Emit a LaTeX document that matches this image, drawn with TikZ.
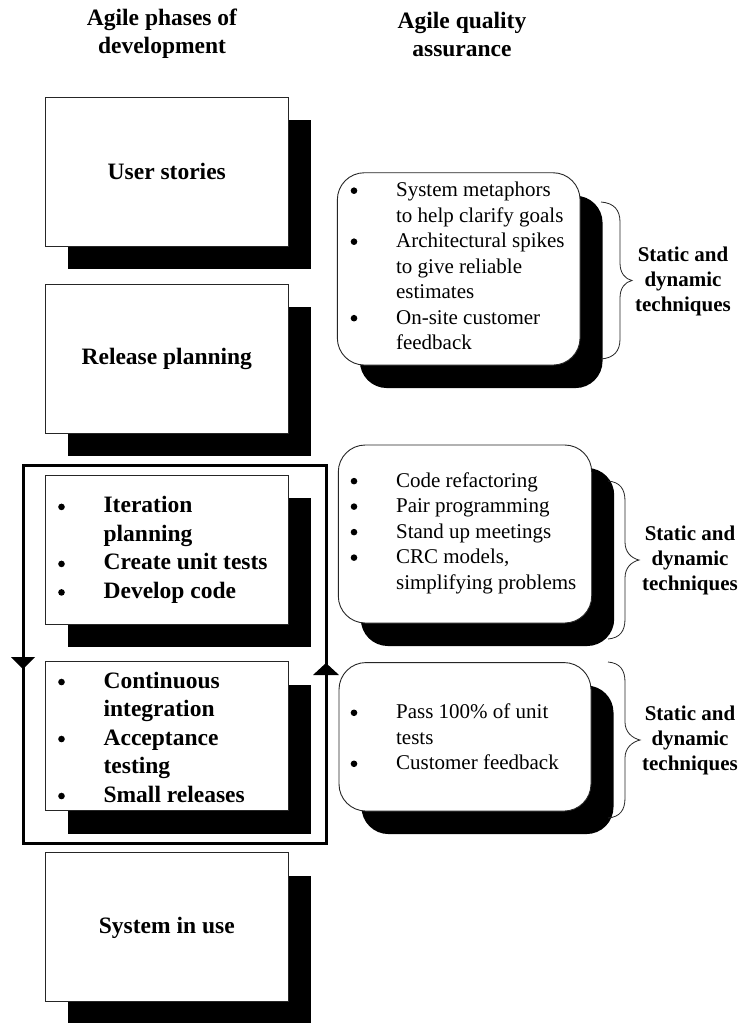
\documentclass[tikz,border=0pt]{standalone}
\usepackage{fontspec}
\setmainfont{Liberation Serif}
\usetikzlibrary{shadows}
% type sizes
\newcommand\phasefont{\fontsize{23.5}{28.5}\selectfont\bfseries}
\newcommand\headfont{\fontsize{23.5}{28}\selectfont\bfseries}
\newcommand\qafont{\fontsize{21}{25.5}\selectfont}
\newcommand\tagfont{\fontsize{21}{25}\selectfont\bfseries}
% round bullet with hanging indent
\newcommand\dotmark{\tikz[x=1cm,y=1cm,baseline=-6pt]\fill (0,0) circle[radius=3.3pt];}
\newcommand\itemb{\makebox[45.4pt][l]{\dotmark}}
\newcommand\contline{\hspace*{45.4pt}}
\begin{document}
\begin{tikzpicture}[x=1pt,y=-1pt,
  blockshadow/.style={drop shadow={shadow xshift=22.5pt, shadow yshift=-23pt, opacity=1, fill=black}},
  phase/.style={draw=black!85, line width=0.9pt, fill=white, minimum width=243pt,
    minimum height=149pt, inner sep=0pt, font=\phasefont, blockshadow},
  qabox/.style={draw=black!85, line width=0.9pt, fill=white, rounded corners=27pt,
    inner sep=0pt, blockshadow},
  listtext/.style={anchor=west, inner sep=0pt, align=left},
  heading/.style={font=\headfont, align=center, inner sep=0pt},
  tag/.style={font=\tagfont, align=center, inner sep=0pt},
  brace/.style={draw=black!85, line width=0.8pt},
  frame/.style={draw=black, line width=3pt, line join=miter},
  tip/.style={fill=black}]

\clip (0,0) rectangle (739,1023);
\fill[white] (0,0) rectangle (739,1023);

% column headings
\node[heading] (h1) at (162,34) {Agile phases of\\development};
\node[heading] (h2) at (462,34) {Agile quality\\assurance};

% development phases
\node[phase] (us) at (166.8,171.7) {User stories};
\node[phase] (rp) at (166.8,358.8) {Release planning};
\node[phase] (it) at (166.8,549.5) {};
\node[phase] (ci) at (166.8,736.4) {};
\node[phase] (su) at (166.8,927.4) {System in use};

\node[listtext, font=\phasefont] (itl) at (58,550)
  {\itemb Iteration\\\contline planning\\\itemb Create unit tests\\\itemb Develop code};
\node[listtext, font=\phasefont] (cil) at (58,737)
  {\itemb Continuous\\\contline integration\\\itemb Acceptance\\\contline testing\\\itemb Small releases};

% iteration loop
\coordinate (fa) at (23,465);
\coordinate (fb) at (326,465);
\coordinate (fc) at (326,843);
\coordinate (fd) at (23,843);
\draw[frame] (fa) -- (fb) -- (fc) -- (fd) -- cycle;
\coordinate (downtip) at (23,669);
\coordinate (uptip) at (326,663);
\fill[tip] (downtip) -- ++(-12,-12) -- ++(24,0) -- cycle;
\fill[tip] (uptip) -- ++(-13,12) -- ++(26,0) -- cycle;

% quality assurance boxes
\node[qabox, minimum width=242.7pt, minimum height=192.3pt] (qa1) at (458.7,268.9) {};
\node[qabox, minimum width=253.4pt, minimum height=178pt] (qa2) at (465,534) {};
\node[qabox, minimum width=252pt, minimum height=148.5pt] (qa3) at (465,736.8) {};

\node[listtext, font=\qafont] (qa1l) at (350.5,266)
  {\itemb System metaphors\\\contline to help clarify goals\\\itemb Architectural spikes\\\contline to give reliable\\\contline estimates\\\itemb On-site customer\\\contline feedback};
\node[listtext, font=\qafont] (qa2l) at (350.5,533)
  {\itemb Code refactoring\\\itemb Pair programming\\\itemb Stand up meetings\\\itemb CRC models,\\\contline simplifying problems};
\node[listtext, font=\qafont] (qa3l) at (350.5,737)
  {\itemb Pass 100\% of unit\\\contline tests\\\itemb Customer feedback};

% braces
\draw[brace] (601,202) .. controls (614,203) and (620,210) .. (620,222) -- (620,263)
  .. controls (620,273) and (625,279) .. (632,280.5)
  .. controls (625,282) and (620,288) .. (620,298) -- (620,339)
  .. controls (620,351) and (614,358) .. (601,359);
\draw[brace] (608,481) .. controls (620,482) and (625,489) .. (625,501) -- (625,542)
  .. controls (625,552) and (631,558) .. (639,560)
  .. controls (631,562) and (625,568) .. (625,578) -- (625,619)
  .. controls (625,631) and (620,638) .. (608,639);
\draw[brace] (608,662) .. controls (620,663) and (625,670) .. (625,682) -- (625,722)
  .. controls (625,732) and (632,738) .. (640,740)
  .. controls (632,742) and (625,748) .. (625,758) -- (625,798)
  .. controls (625,810) and (620,817) .. (608,818);

\node[tag] (t1) at (683,281) {Static and\\dynamic\\techniques};
\node[tag] (t2) at (690,560) {Static and\\dynamic\\techniques};
\node[tag] (t3) at (690,740) {Static and\\dynamic\\techniques};
\end{tikzpicture}
\end{document}
